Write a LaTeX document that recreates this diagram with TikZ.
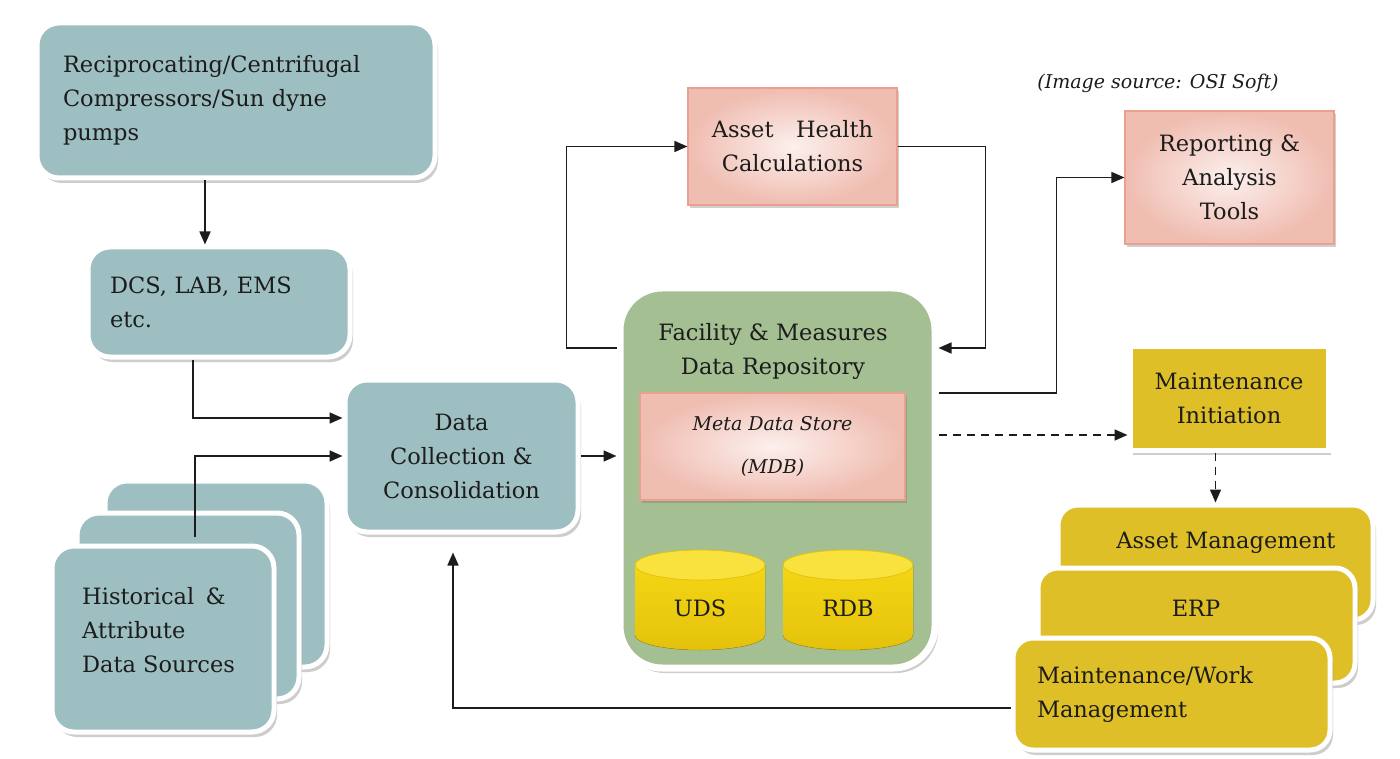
\documentclass[tikz,border=0pt]{standalone}
\usepackage{fontspec}
\setmainfont{DejaVu Serif}
\usetikzlibrary{arrows.meta,shadows,calc}
\definecolor{tealfill}{RGB}{158,191,193}
\definecolor{greenfill}{RGB}{164,191,146}
\definecolor{goldfill}{RGB}{222,191,40}
\definecolor{salmon}{RGB}{233,160,143}
\definecolor{blush}{RGB}{252,240,237}
\definecolor{cylbody}{RGB}{244,214,20}
\definecolor{cyldark}{RGB}{228,194,12}
\definecolor{cyltop}{RGB}{249,226,62}
\definecolor{ink}{RGB}{28,28,28}
\newcommand\mainfs{\fontsize{22.5}{34}\selectfont}
\begin{document}
\begin{tikzpicture}[x=1pt,y=-1pt,
  every node/.style={font=\mainfs,text=ink,inner sep=0pt},
  softshadow/.style={drop shadow={shadow xshift=3pt,shadow yshift=-5pt,opacity=0.28,fill=black!70}},
  tealbox/.style={rectangle,rounded corners=22pt,fill=tealfill,draw=white,line width=5pt,softshadow},
  goldbox/.style={rectangle,rounded corners=20pt,fill=goldfill,draw=white,line width=5pt,softshadow},
  pinkbox/.style={rectangle,draw=salmon,line width=1.2pt,inner color=blush,outer color=salmon!70,
    drop shadow={shadow xshift=2pt,shadow yshift=-3pt,opacity=0.3,fill=black!60}},
  arr/.style={draw=ink,line width=1.6pt,-{Triangle[length=13pt,width=11pt]}},
  dashedarr/.style={arr,dash pattern=on 8pt off 6pt}]

\useasboundingbox (0,0) rectangle (1400,759);
\fill[white] (0,0) rectangle (1400,759);

% left column: equipment, plant systems and historical sources
\node[tealbox,minimum width=398pt,minimum height=155pt,text width=346pt,align=left]
  (recip) at (236,100.5) {Reciprocating/Centrifugal\\Compressors/Sun dyne\\pumps};
\node[tealbox,minimum width=262pt,minimum height=110pt,text width=218pt,align=left]
  (dcs) at (219,302) {DCS, LAB, EMS\\etc.};

\node[tealbox,minimum width=222pt,minimum height=186pt] (hist3) at (216,574) {};
\node[tealbox,minimum width=222pt,minimum height=186pt] (hist2) at (188,606) {};
\node[tealbox,minimum width=222pt,minimum height=186pt] (hist1) at (163,639) {};
\node[anchor=west,align=left] (histtxt) at (82,630) {Historical\enspace\&\\Attribute\\Data Sources};

\node[tealbox,minimum width=233pt,minimum height=152pt,align=center]
  (dc) at (461.5,456) {Data\\Collection \&\\Consolidation};

% central repository
\node[rectangle,rounded corners=42pt,fill=greenfill,draw=white,line width=7pt,softshadow,
  minimum width=315pt,minimum height=380pt] (fac) at (777.5,478) {};
\node[align=center] (factitle) at (773,351) {Facility \& Measures\\Data Repository};
\node[pinkbox,minimum width=265pt,minimum height=107pt,align=center,
  font=\fontsize{19}{43}\selectfont\itshape] (mdb) at (772.5,446.5) {Meta Data Store\\(MDB)};

% storage cylinders
\foreach \cx in {700,848}{
  \fill[top color=cylbody,bottom color=cyldark] (\cx-65,565) -- (\cx-65,635)
    arc[start angle=180,end angle=360,x radius=65pt,y radius=15pt] -- (\cx+65,565) -- cycle;
  \draw[cyldark!80!black,line width=0.8pt,opacity=0.5] (\cx-65,635)
    arc[start angle=180,end angle=360,x radius=65pt,y radius=15pt];
  \filldraw[fill=cyltop,draw=cyldark,line width=0.8pt] (\cx,565) ellipse[x radius=65pt,y radius=15pt];
}
\node (uds) at (700,608) {UDS};
\node (rdb) at (848,608) {RDB};

% analysis boxes
\node[pinkbox,minimum width=209pt,minimum height=117pt,align=center]
  (ahc) at (792.5,146.5) {Asset\quad Health\\Calculations};
\node[pinkbox,minimum width=209pt,minimum height=133pt,align=center]
  (rep) at (1229.5,177.5) {Reporting \&\\Analysis\\Tools};
\node[font=\fontsize{19}{24}\selectfont\itshape] (src) at (1158,83) {(Image source: OSI Soft)};

% maintenance side
\node[rectangle,fill=goldfill,draw=white,line width=5pt,softshadow,
  minimum width=198pt,minimum height=104pt,align=center] (mi) at (1229,398) {Maintenance\\Initiation};
\node[goldbox,minimum width=315pt,minimum height=115pt] (am) at (1215.5,562.5) {};
\node (amtxt) at (1226,543) {Asset Management};
\node[goldbox,minimum width=317pt,minimum height=115pt] (erp) at (1196.5,625.5) {};
\node (erptxt) at (1196,608) {ERP};
\node[goldbox,minimum width=317pt,minimum height=112pt,text width=269pt,align=left]
  (mw) at (1171.5,694) {Maintenance/Work\\Management};

% connectors
\draw[arr] ([xshift=-14pt]dcs.north |- recip.south) -- ([xshift=-14pt]dcs.north);
\draw[arr] ([xshift=-26pt]dcs.south) |- ([yshift=38pt]dc.west);
\coordinate (hsrc) at (195,537);
\draw[arr] (hsrc) |- (dc.west);
\draw[arr] (dc.east) -- (dc.east -| fac.west);
\draw[arr] ([yshift=130pt]fac.west) -- ++(-50,0) |- (ahc.west);
\draw[arr] (ahc.east) -- ++(88,0) |- ([yshift=130pt]fac.east);
\draw[arr] ([yshift=85pt]fac.east) -- ++(118,0) |- (rep.west);
\draw[dashedarr] ([yshift=43pt]fac.east) -- ([yshift=-37pt]mi.west);
\draw[dashedarr] (mi.south -| am.north) -- (am.north);
\draw[arr] ([yshift=-14pt]mw.west) -| ([xshift=-8.5pt,yshift=-18pt]dc.south);
\end{tikzpicture}
\end{document}
